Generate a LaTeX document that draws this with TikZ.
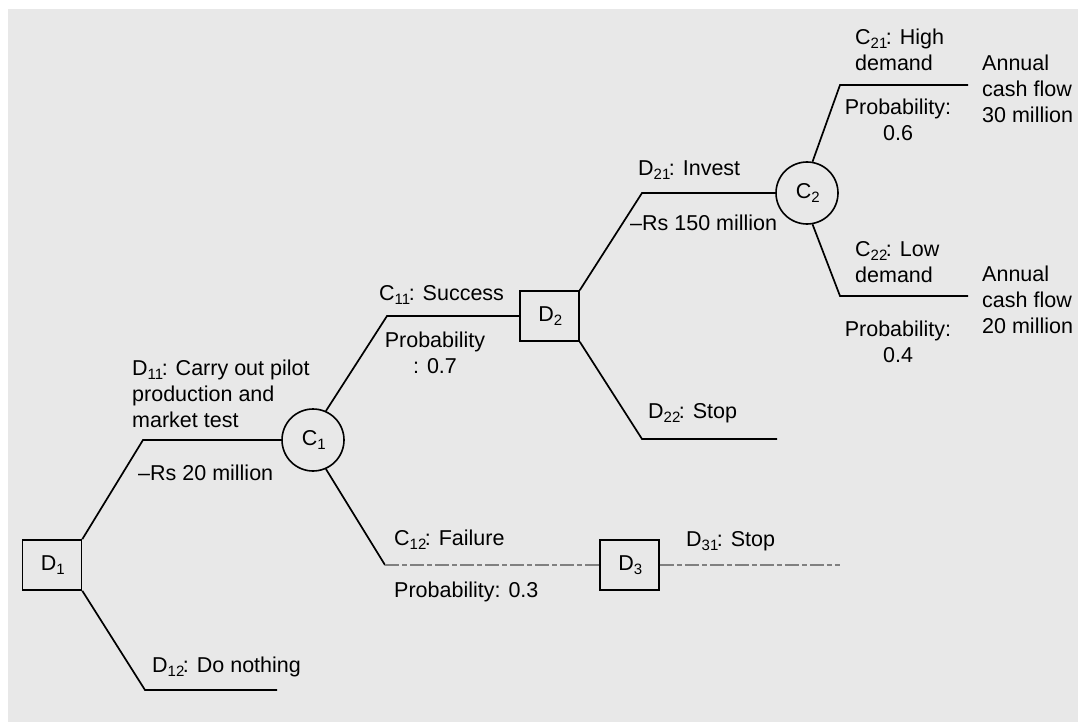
\documentclass[tikz,border=0pt]{standalone}
\usepackage{fontspec}
\setmainfont{Liberation Sans}
\usepackage{tikz}
\usetikzlibrary{positioning}
\newcommand{\ix}[1]{\raisebox{-4pt}{\fontsize{15}{15}\selectfont#1}\kern-1.5pt}

\begin{document}
\begin{tikzpicture}[x=1pt,y=-1pt,
    branch/.style={line width=1.7pt,black},
    faded/.style={line width=1.4pt,black!50,dash pattern=on 14pt off 3pt on 5pt off 3pt},
    decbox/.style={draw,line width=1.6pt,minimum width=59pt,minimum height=50pt,inner sep=0pt},
    chance/.style={draw,circle,line width=1.6pt,minimum size=62pt,inner sep=0pt},
    lbl/.style={inner sep=0pt,align=left,anchor=west},
    lblc/.style={inner sep=0pt,align=center},
    every node/.append style={font=\fontsize{21.5}{26}\selectfont}]
  \fill[white] (0,0) rectangle (1078,722);
  \fill[black!9] (8,9) rectangle (1078,722);
  \useasboundingbox (0,0) rectangle (1078,722);
  % decision and chance nodes
  \node[decbox] (D1) at (52,565) {D\ix{1}};
  \node[chance] (C1) at (313,440) {C\ix{1}};
  \node[decbox] (D2) at (549.5,316) {D\ix{2}};
  \node[decbox] (D3) at (629.5,565) {D\ix{3}};
  \node[chance] (C2) at (807,193) {C\ix{2}};
  \coordinate (a11) at (143,440);
  \coordinate (a12) at (145,690);
  \coordinate (e12) at (277,690);
  \coordinate (c11) at (387,316);
  \coordinate (c12) at (385,565);
  \coordinate (e31) at (840,565);
  \coordinate (a21) at (642,193);
  \coordinate (a22) at (642,439);
  \coordinate (e22) at (777,439);
  \coordinate (c21) at (840,85);
  \coordinate (f21) at (968,85);
  \coordinate (c22) at (840,296);
  \coordinate (f22) at (968,296);
  % branches
  \draw[branch] (D1.north east) -- (a11) -- (C1.west);
  \draw[branch] (D1.south east) -- (a12) -- (e12);
  \draw[branch] (C1.66) -- (c11) -- (D2.west);
  \draw[branch] (C1.-66) -- (c12);
  \draw[faded] (c12) -- (D3.west);
  \draw[faded] (D3.east) -- (e31);
  \draw[branch] (D2.north east) -- (a21) -- (C2.west);
  \draw[branch] (D2.south east) -- (a22) -- (e22);
  \draw[branch] (C2.80) -- (c21) -- (f21);
  \draw[branch] (C2.-80) -- (c22) -- (f22);
  % labels
  \node[lbl] (t11) at (132,394) {D\ix{11}: Carry out pilot\\production and\\market test};
  \node[lbl] (r20) at (138,473) {--Rs 20 million};
  \node[lbl] (t12) at (152,667) {D\ix{12}: Do nothing};
  \node[lbl] (s11) at (379,295) {C\ix{11}: Success};
  \node[lblc] (p07) at (435,353) {Probability\\: 0.7};
  \node[lbl] (s12) at (394,540) {C\ix{12}: Failure};
  \node[lbl] (p03) at (394,592) {Probability: 0.3};
  \node[lbl] (t31) at (686,541) {D\ix{31}: Stop};
  \node[lbl] (t22) at (648,413) {D\ix{22}: Stop};
  \node[lbl] (t21) at (638,170) {D\ix{21}: Invest};
  \node[lbl] (r150) at (630,223) {--Rs 150 million};
  \node[lbl] (s21) at (855,50) {C\ix{21}: High\\demand};
  \node[lblc] (p06) at (898,120) {Probability:\\0.6};
  \node[lbl] (v30) at (982,89) {Annual\\cash flow\\30 million};
  \node[lbl] (s22) at (855,262) {C\ix{22}: Low\\demand};
  \node[lblc] (p04) at (898,342) {Probability:\\0.4};
  \node[lbl] (v20) at (982,300) {Annual\\cash flow\\20 million};
\end{tikzpicture}
\end{document}
